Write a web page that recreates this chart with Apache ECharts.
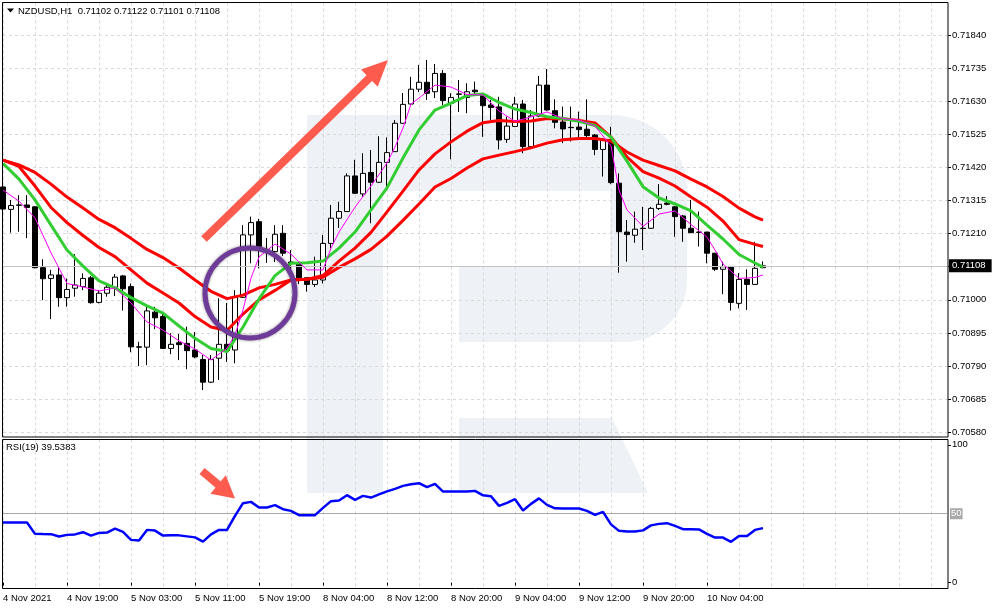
<!DOCTYPE html>
<html>
<head>
<meta charset="utf-8">
<title>NZDUSD H1</title>
<style>
  html, body { margin: 0; padding: 0; background: #fff; }
  #chart { width: 994px; height: 610px; }
</style>
<script src="https://cdn.jsdelivr.net/npm/echarts@6/dist/echarts.min.js"></script>
</head>
<body>
<div id="chart"></div>
<script>
(function () {
  'use strict';

  /* ---------- data ---------- */
  const tickLabels = ['4 Nov 2021', '4 Nov 19:00', '5 Nov 03:00', '5 Nov 11:00', '5 Nov 19:00', '8 Nov 04:00',
    '8 Nov 12:00', '8 Nov 20:00', '9 Nov 04:00', '9 Nov 12:00', '9 Nov 20:00', '10 Nov 04:00'];

  const opens = [0.71358, 0.71287, 0.71301, 0.71301, 0.71295, 0.71102, 0.71068, 0.71079, 0.71007, 0.71037,
    0.71042, 0.71070, 0.70992, 0.71021, 0.71040, 0.71076, 0.71042, 0.70851, 0.70850, 0.70961,
    0.70947, 0.70846, 0.70864, 0.70862, 0.70841, 0.70811, 0.70739, 0.70815, 0.70859, 0.70841,
    0.71008, 0.71206, 0.71248, 0.71158, 0.71153, 0.71211, 0.71120, 0.71116, 0.71070, 0.71049,
    0.71063, 0.71179, 0.71259, 0.71280, 0.71393, 0.71336, 0.71404, 0.71373, 0.71436, 0.71470,
    0.71560, 0.71621, 0.71668, 0.71690, 0.71660, 0.71718, 0.71623, 0.71653, 0.71642, 0.71665,
    0.71650, 0.71618, 0.71612, 0.71509, 0.71550, 0.71621, 0.71486, 0.71583, 0.71681, 0.71600,
    0.71564, 0.71547, 0.71548, 0.71541, 0.71523, 0.71477, 0.71509, 0.71370, 0.71215, 0.71205,
    0.71227, 0.71227, 0.71290, 0.71307, 0.71295, 0.71266, 0.71227, 0.71215, 0.71215, 0.71148,
    0.71097, 0.71105, 0.70989, 0.71065, 0.71049, 0.71102];
  const highs = [0.71364, 0.71317, 0.71332, 0.71332, 0.71297, 0.71129, 0.71095, 0.71107, 0.71068, 0.71145,
    0.71084, 0.71076, 0.71031, 0.71052, 0.71082, 0.71079, 0.71052, 0.70867, 0.70978, 0.70978,
    0.70958, 0.70894, 0.70892, 0.70915, 0.70898, 0.70825, 0.70825, 0.71005, 0.70990, 0.71031,
    0.71237, 0.71264, 0.71257, 0.71196, 0.71237, 0.71237, 0.71158, 0.71120, 0.71070, 0.71137,
    0.71206, 0.71301, 0.71311, 0.71401, 0.71444, 0.71465, 0.71475, 0.71519, 0.71515, 0.71570,
    0.71656, 0.71707, 0.71745, 0.71761, 0.71748, 0.71729, 0.71655, 0.71697, 0.71687, 0.71692,
    0.71653, 0.71634, 0.71644, 0.71581, 0.71644, 0.71634, 0.71602, 0.71710, 0.71732, 0.71636,
    0.71613, 0.71613, 0.71597, 0.71636, 0.71526, 0.71513, 0.71549, 0.71401, 0.71253, 0.71280,
    0.71295, 0.71295, 0.71367, 0.71329, 0.71297, 0.71269, 0.71317, 0.71280, 0.71215, 0.71149,
    0.71121, 0.71107, 0.71085, 0.71097, 0.71184, 0.71122];
  const lows = [0.71234, 0.71213, 0.71216, 0.71196, 0.71100, 0.70999, 0.70939, 0.70978, 0.70978, 0.71010,
    0.71031, 0.70988, 0.70989, 0.71010, 0.71012, 0.70966, 0.70834, 0.70790, 0.70793, 0.70907,
    0.70844, 0.70828, 0.70809, 0.70780, 0.70815, 0.70714, 0.70736, 0.70746, 0.70803, 0.70799,
    0.71006, 0.71116, 0.71100, 0.71117, 0.71120, 0.71139, 0.71085, 0.71050, 0.71026, 0.71041,
    0.71052, 0.71163, 0.71228, 0.71279, 0.71336, 0.71327, 0.71243, 0.71371, 0.71354, 0.71469,
    0.71558, 0.71615, 0.71659, 0.71634, 0.71640, 0.71618, 0.71446, 0.71596, 0.71592, 0.71650,
    0.71517, 0.71570, 0.71477, 0.71498, 0.71548, 0.71465, 0.71482, 0.71581, 0.71600, 0.71544,
    0.71497, 0.71502, 0.71507, 0.71507, 0.71459, 0.71391, 0.71367, 0.71086, 0.71121, 0.71181,
    0.71158, 0.71225, 0.71285, 0.71300, 0.71200, 0.71184, 0.71212, 0.71169, 0.71116, 0.71092,
    0.71018, 0.70966, 0.70973, 0.70968, 0.71047, 0.71101];
  const closes = [0.71288, 0.71299, 0.71300, 0.71293, 0.71102, 0.71067, 0.71079, 0.71007, 0.71033, 0.71047,
    0.71068, 0.70991, 0.71021, 0.71040, 0.71072, 0.71035, 0.70851, 0.70850, 0.70965, 0.70943,
    0.70846, 0.70859, 0.70858, 0.70839, 0.70819, 0.70739, 0.70811, 0.70859, 0.70839, 0.71008,
    0.71206, 0.71245, 0.71169, 0.71157, 0.71208, 0.71148, 0.71116, 0.71070, 0.71049, 0.71063,
    0.71179, 0.71259, 0.71280, 0.71393, 0.71338, 0.71401, 0.71373, 0.71436, 0.71467, 0.71560,
    0.71620, 0.71668, 0.71690, 0.71655, 0.71718, 0.71632, 0.71642, 0.71652, 0.71660, 0.71660,
    0.71616, 0.71610, 0.71507, 0.71551, 0.71621, 0.71486, 0.71583, 0.71681, 0.71602, 0.71563,
    0.71542, 0.71546, 0.71540, 0.71521, 0.71477, 0.71509, 0.71372, 0.71216, 0.71207, 0.71224,
    0.71226, 0.71290, 0.71303, 0.71303, 0.71264, 0.71227, 0.71213, 0.71214, 0.71148, 0.71097,
    0.71105, 0.70992, 0.71065, 0.71049, 0.71100, 0.71108];

  // moving averages, read every second bar
  const maIdx = [0, 2, 4, 6, 8, 10, 12, 14, 16, 18, 20, 22, 24, 26, 28, 30, 32, 34, 36, 38, 40, 42, 44, 46,
    48, 50, 52, 54, 56, 58, 60, 62, 64, 66, 68, 70, 72, 74, 76, 78, 80, 82, 84, 86, 88, 90, 92, 94, 95];
  const redSlow = [0.71443, 0.71428, 0.71404, 0.71367, 0.71326, 0.71291, 0.71255, 0.71229, 0.71195, 0.71160,
    0.71134, 0.71101, 0.71063, 0.71027, 0.71004, 0.71015, 0.71038, 0.71049, 0.71063, 0.71065,
    0.71072, 0.71103, 0.71130, 0.71160, 0.71202, 0.71252, 0.71304, 0.71358, 0.71385, 0.71418,
    0.71447, 0.71459, 0.71470, 0.71482, 0.71497, 0.71508, 0.71512, 0.71512, 0.71504, 0.71469,
    0.71443, 0.71426, 0.71409, 0.71383, 0.71358, 0.71328, 0.71291, 0.71263, 0.71253];
  const redMid = [0.71443, 0.71423, 0.71361, 0.71293, 0.71245, 0.71204, 0.71166, 0.71137, 0.71095, 0.71053,
    0.71022, 0.70990, 0.70947, 0.70914, 0.70903, 0.70955, 0.71000, 0.71030, 0.71063, 0.71065,
    0.71077, 0.71123, 0.71164, 0.71214, 0.71279, 0.71345, 0.71412, 0.71463, 0.71501, 0.71535,
    0.71562, 0.71569, 0.71566, 0.71567, 0.71575, 0.71574, 0.71569, 0.71561, 0.71516, 0.71453,
    0.71407, 0.71386, 0.71361, 0.71326, 0.71294, 0.71250, 0.71191, 0.71176, 0.71169];
  const greenMa = [0.71433, 0.71383, 0.71317, 0.71237, 0.71158, 0.71107, 0.71060, 0.71038, 0.71007, 0.70981,
    0.70958, 0.70917, 0.70878, 0.70846, 0.70836, 0.70914, 0.71003, 0.71077, 0.71116, 0.71118,
    0.71123, 0.71164, 0.71215, 0.71285, 0.71355, 0.71450, 0.71539, 0.71602, 0.71624, 0.71648,
    0.71653, 0.71626, 0.71605, 0.71594, 0.71581, 0.71575, 0.71566, 0.71553, 0.71516, 0.71440,
    0.71359, 0.71323, 0.71304, 0.71282, 0.71237, 0.71193, 0.71144, 0.71117, 0.71104];

  const pinkIdx = [0, 2, 4, 6, 8, 10, 12, 14, 16, 18, 20, 22, 24, 26, 28, 29, 30, 31, 32, 34, 36, 38, 40, 41,
    42, 44, 46, 48, 49, 50, 51, 52, 54, 56, 58, 60, 62, 64, 66, 68, 70, 72, 74, 76, 77, 78, 80, 82,
    84, 86, 88, 89, 90, 92, 94, 95];
  const pinkMa = [0.71348, 0.71313, 0.71260, 0.71149, 0.71052, 0.71041, 0.71028, 0.71038, 0.70990, 0.70930,
    0.70904, 0.70870, 0.70844, 0.70809, 0.70847, 0.70889, 0.70968, 0.71069, 0.71136, 0.71177,
    0.71145, 0.71095, 0.71095, 0.71164, 0.71215, 0.71294, 0.71361, 0.71434, 0.71485, 0.71545,
    0.71621, 0.71640, 0.71681, 0.71675, 0.71651, 0.71650, 0.71599, 0.71566, 0.71580, 0.71596,
    0.71575, 0.71570, 0.71551, 0.71488, 0.71348, 0.71285, 0.71233, 0.71272, 0.71282, 0.71239,
    0.71199, 0.71158, 0.71114, 0.71068, 0.71071, 0.71079];

  const rsi = [43.57, 43.57, 43.57, 43.57, 35.37, 35.22, 35.15, 33.41, 34.64, 35.00,
    36.60, 34.13, 36.09, 36.31, 39.22, 36.82, 31.01, 30.50, 38.27, 37.76,
    34.13, 34.28, 34.28, 33.55, 32.83, 29.78, 35.00, 38.27, 38.27, 48.44,
    57.66, 58.61, 54.47, 54.47, 56.21, 53.30, 52.07, 48.95, 48.95, 48.95,
    54.25, 59.12, 59.60, 63.47, 60.06, 62.96, 61.73, 64.05, 66.23, 68.05,
    70.22, 71.46, 72.19, 69.28, 71.68, 66.09, 66.09, 66.09, 66.09, 66.59,
    63.33, 62.74, 55.70, 57.88, 60.57, 52.29, 57.15, 61.15, 56.43, 53.89,
    53.74, 53.74, 53.74, 52.07, 49.16, 51.34, 42.27, 37.55, 37.04, 37.04,
    37.91, 41.54, 42.63, 43.14, 41.18, 38.78, 38.78, 38.63, 35.37, 32.68,
    32.68, 29.56, 33.91, 33.91, 38.27, 39.54];

  const priceTicks = [0.70580, 0.00105];   // first tick, step
  const rsiLabels = [0, 100];

  /* ---------- look ---------- */
  const FONT = '"Liberation Sans", Arial, sans-serif';
  const FS = 9.5;
  const GRIDC = '#d9d9d9';
  const DASH = [3, 3];
  const WATER = '#eef1f6';
  const CORAL = '#fe5b4f';
  const SLOTS = 119;               // bars + empty space to the right
  const STEP = 8;                  // one label every 8 bars
  const PLOT = { left: 3, right: 47 };

  const slots = Array.from({ length: SLOTS }, (_, i) => 's' + i);
  const hasLabel = i => i % STEP === 0 && i / STEP < tickLabels.length;
  const ohlc = opens.map((o, i) => [o, closes[i], lows[i], highs[i]]);
  const pairs = (idx, vals) => idx.map((x, k) => [x, vals[k]]);
  const last = closes[closes.length - 1];

  function maLine(idx, vals, color, width, z) {
    return {
      type: 'line', xAxisIndex: 0, yAxisIndex: 0, data: pairs(idx, vals),
      symbol: 'none', silent: true, z: z,
      lineStyle: { color: color, width: width }
    };
  }

  function txt(x, y, s) {
    return { type: 'text', x: x, y: y, z: 60, silent: true,
      style: { text: s, fill: '#000', font: FS + 'px ' + FONT, verticalAlign: 'middle' } };
  }

  // arrow: shaft from tail to head base, triangular head
  function arrow(tail, tip, headLen, headHalf, width) {
    const dx = tip[0] - tail[0], dy = tip[1] - tail[1];
    const len = Math.sqrt(dx * dx + dy * dy), ux = dx / len, uy = dy / len;
    const bx = tip[0] - ux * headLen, by = tip[1] - uy * headLen;
    return [
      { type: 'line', z: 90, silent: true,
        shape: { x1: tail[0], y1: tail[1], x2: bx + ux, y2: by + uy },
        style: { stroke: CORAL, lineWidth: width } },
      { type: 'polygon', z: 90, silent: true,
        shape: { points: [tip, [bx - uy * headHalf, by + ux * headHalf], [bx + uy * headHalf, by - ux * headHalf]] },
        style: { fill: CORAL } }
    ];
  }

  /* ---------- watermark, frames, notes ---------- */
  const graphics = [
    { type: 'rect', z: -10, silent: true, shape: { x: 307, y: 115, width: 380, height: 227, r: [0, 75, 62, 0] }, style: { fill: WATER } },
    { type: 'rect', z: -10, silent: true, shape: { x: 307, y: 115, width: 76, height: 378 }, style: { fill: WATER } },
    { type: 'rect', z: -9, silent: true, shape: { x: 383, y: 191, width: 227, height: 76 }, style: { fill: '#fff' } },
    { type: 'rect', z: -9, silent: true, shape: { x: 383, y: 267, width: 76, height: 75 }, style: { fill: '#fff' } },
    { type: 'polygon', z: -10, silent: true, shape: { points: [[459, 418], [612, 418], [648, 493], [459, 493]] }, style: { fill: WATER } },

    { type: 'rect', z: 50, silent: true, shape: { x: 2.5, y: 2.5, width: 945.5, height: 434.5 }, style: { fill: 'none', stroke: '#000', lineWidth: 1 } },
    { type: 'rect', z: 50, silent: true, shape: { x: 2.5, y: 439.5, width: 945.5, height: 149 }, style: { fill: 'none', stroke: '#000', lineWidth: 1 } },

    { type: 'polygon', z: 60, silent: true, shape: { points: [[7, 8.5], [14, 8.5], [10.5, 12.5]] }, style: { fill: '#000' } },
    txt(18, 11, 'NZDUSD,H1  0.71102 0.71122 0.71101 0.71108'),
    txt(6, 447.5, 'RSI(19) 39.5383'),

    { type: 'circle', z: 95, silent: true, shape: { cx: 250, cy: 293, r: 45 },
      style: { fill: 'none', stroke: '#6f3b98', lineWidth: 5, shadowBlur: 3, shadowColor: 'rgba(0,0,0,0.45)' } }
  ].concat(arrow([204, 239], [388, 60], 26, 12, 8), arrow([202, 471], [235, 498.5], 22, 12, 8));

  /* ---------- chart ---------- */
  const catAxis = (grid, extra) => Object.assign({
    type: 'category', gridIndex: grid, data: slots, boundaryGap: false,
    axisLine: { show: false }, axisTick: { show: false }, axisLabel: { show: false },
    splitLine: { show: false }
  }, extra);

  const vSplit = { show: true, interval: 3, lineStyle: { color: GRIDC, type: DASH, width: 1 } };

  const chart = echarts.init(document.getElementById('chart'), null, { renderer: 'canvas' });
  chart.setOption({
    animation: false,
    backgroundColor: '#fff',
    textStyle: { fontFamily: FONT, fontSize: FS, color: '#000' },
    grid: [
      { left: PLOT.left, right: PLOT.right, top: 2.5, height: 429.8 },
      { left: PLOT.left, right: PLOT.right, top: 439.5, height: 149 },
      { left: PLOT.left, right: PLOT.right, top: 2.5, height: 434.5 }
    ],
    xAxis: [
      catAxis(0),
      catAxis(1, {
        splitLine: vSplit,
        axisTick: { show: true, interval: hasLabel, length: 3, lineStyle: { color: '#000' } },
        axisLabel: {
          show: true, interval: hasLabel, align: 'left', margin: 5, color: '#000', fontSize: FS,
          formatter: (v, i) => (hasLabel(i) ? tickLabels[i / STEP] : '')
        }
      }),
      catAxis(2, { splitLine: vSplit })
    ],
    yAxis: [
      {
        type: 'value', gridIndex: 0, position: 'right', offset: 1,
        min: priceTicks[0], max: 0.71943, interval: priceTicks[1],
        axisLine: { show: false },
        axisTick: { show: true, length: 3, lineStyle: { color: '#000' } },
        axisLabel: { color: '#000', fontSize: FS, margin: 4, showMaxLabel: false, formatter: v => v.toFixed(5) },
        splitLine: { show: true, lineStyle: { color: GRIDC, type: DASH, width: 1 } }
      },
      {
        type: 'value', gridIndex: 1, position: 'right', offset: 1, min: -4.3, max: 103.9,
        axisLine: { show: false },
        axisTick: { show: true, length: 3, customValues: rsiLabels, lineStyle: { color: '#000' } },
        axisLabel: { color: '#000', fontSize: FS, margin: 4, customValues: rsiLabels },
        splitLine: { show: false }
      },
      { type: 'value', gridIndex: 2, min: 0, max: 1, show: false }
    ],
    series: [
      {
        type: 'candlestick', xAxisIndex: 0, yAxisIndex: 0, data: ohlc, barWidth: 5, z: 3,
        itemStyle: { color: '#fff', color0: '#000', borderColor: '#000', borderColor0: '#000', borderColorDoji: '#000', borderWidth: 1 },
        markLine: {
          silent: true, symbol: 'none', precision: 5,
          lineStyle: { color: '#c4c4c4', width: 1, type: 'solid' },
          label: { position: 'end', distance: 2, formatter: () => last.toFixed(5), color: '#fff',
            backgroundColor: '#000', padding: [2, 6, 1, 3], fontSize: FS, fontFamily: FONT },
          data: [{ yAxis: last }]
        }
      },
      maLine(maIdx, redSlow, '#ff0000', 3, 4),
      maLine(maIdx, redMid, '#ff0000', 3, 4),
      maLine(maIdx, greenMa, '#32cd32', 3, 5),
      maLine(pinkIdx, pinkMa, '#ff00ff', 1, 6),
      {
        type: 'line', xAxisIndex: 1, yAxisIndex: 1, data: rsi, symbol: 'none', silent: true, z: 5,
        lineStyle: { color: '#0000ff', width: 2.5 },
        markLine: {
          silent: true, symbol: 'none',
          lineStyle: { color: '#a9a9a9', width: 1, type: 'solid' },
          label: { position: 'end', distance: 3, formatter: '50', color: '#fff', backgroundColor: '#a9a9a9',
            padding: [1, 1, 0, 1], fontSize: FS, fontFamily: FONT },
          data: [{ yAxis: 50 }]
        }
      }
    ],
    graphic: graphics
  });
})();
</script>
</body>
</html>
